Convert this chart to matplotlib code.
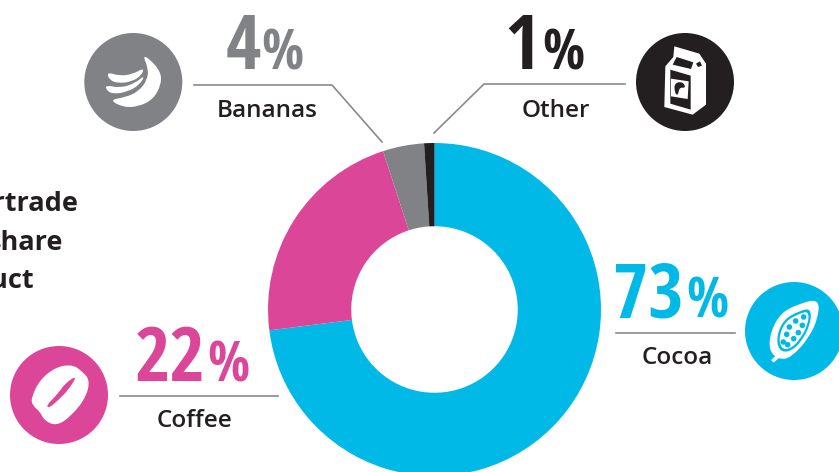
import matplotlib
matplotlib.use('Agg')
import matplotlib.pyplot as plt
from matplotlib.patches import Circle, PathPatch, Polygon
from matplotlib.path import Path

products = ['Cocoa', 'Coffee', 'Bananas', 'Other']
shares = [73, 22, 4, 1]
colors = ['#00b9e7', '#dc4698', '#808285', '#231f20']
title_lines = ['Fairtrade', 'share', 'product']

LINE = '#8a8a8c'
DARK = '#231f20'
BIG = ['Open Sans Condensed', 'Roboto Condensed']
BODY = ['Open Sans', 'DejaVu Sans']
W, H = 839, 472

fig = plt.figure(figsize=(W / 100, H / 100), dpi=100)

# donut in its own axes, centre (434.5, 309.5), radius 166.5 px
cx, cy, r = 434.5, 309.5, 166.5
ax_pie = fig.add_axes([(cx - r) / W, 1 - (cy + r) / H, 2 * r / W, 2 * r / H])
ax_pie.pie(shares, colors=colors, startangle=90, counterclock=False, radius=1,
           wedgeprops=dict(width=0.5, linewidth=0))
ax_pie.set_xlim(-1, 1)
ax_pie.set_ylim(-1, 1)

# everything else is placed in pixels, y going down
ax = fig.add_axes([0, 0, 1, 1])
ax.set_xlim(0, W)
ax.set_ylim(H, 0)
ax.axis('off')
ax.patch.set_alpha(0)


def blob(pts, x0, y0, color, z=3):
    # smooth closed shape through the midpoints of pts (given at 3x scale)
    pts = [(x0 + a / 3, y0 + b / 3) for a, b in pts]
    n = len(pts)
    mid = lambda i: ((pts[i][0] + pts[(i + 1) % n][0]) / 2, (pts[i][1] + pts[(i + 1) % n][1]) / 2)
    verts = [mid(n - 1)]
    codes = [Path.MOVETO]
    for i in range(n):
        verts += [pts[i], mid(i)]
        codes += [Path.CURVE3, Path.CURVE3]
    ax.add_patch(PathPatch(Path(verts, codes), fc=color, ec='none', zorder=z))


def poly(pts, x0, y0, color, z=3):
    ax.add_patch(Polygon([(x0 + a / 3, y0 + b / 3) for a, b in pts], closed=True,
                         fc=color, ec='none', zorder=z))


# leader lines
leaders = [[(194, 85), (332, 85), (382, 142)],
           [(625, 84), (484, 84), (434, 133)],
           [(120, 395.5), (278, 395.5)],
           [(616, 333), (735, 333)]]
for pts in leaders:
    ax.plot([p[0] for p in pts], [p[1] for p in pts], color=LINE, lw=1.2,
            solid_joinstyle='miter')

# big percentages: digits end at x_digit, the smaller % starts at x_pct
big_numbers = [('4', 261, 261, 69, colors[2]),
               ('1', 540, 542, 69, colors[3]),
               ('22', 205, 207, 381, colors[1]),
               ('73', 684, 686, 317, colors[0])]
for digits, x_digit, x_pct, base, col in big_numbers:
    ax.text(x_digit, base, digits, ha='right', va='baseline', fontsize=55,
            fontweight='bold', family=BIG, color=col)
    ax.text(x_pct, base, '%', ha='left', va='baseline', fontsize=40,
            fontweight='bold', family=BIG, color=col)

# product names
name_pos = [(677.5, 364), (195, 427), (267, 117), (556, 117)]
for name, (x, y) in zip(products, name_pos):
    ax.text(x, y, name, ha='center', va='baseline', fontsize=17.5, fontweight='semibold',
            family=BODY, color=DARK)

# heading, runs off the left edge
for line, x, y in zip(title_lines, [79, 63, 34], [211, 250, 288]):
    ax.text(x, y, line, ha='right', va='baseline', fontsize=19.5, fontweight='bold',
            family=BODY, color=DARK)

# icon discs
for (x, y), col in zip([(794, 331), (59, 395), (133.3, 82), (685, 82)], colors):
    ax.add_patch(Circle((x, y), 49, fc=col, ec='none', zorder=2))

# banana bunch
blob([(110, 216), (150, 228), (190, 222), (222, 203), (215, 226), (185, 245), (145, 250), (118, 240)],
     70, 0, 'white')
blob([(106, 255), (150, 264), (195, 250), (226, 224), (208, 256), (170, 276), (130, 282), (110, 272)],
     70, 0, 'white')
blob([(218, 166), (240, 178), (272, 215), (274, 252), (250, 298), (205, 320), (160, 322), (118, 300),
      (165, 292), (205, 275), (232, 240), (235, 205)], 70, 0, 'white')

# coffee bean
blob([(93, 685), (120, 628), (170, 590), (218, 584), (245, 603), (270, 630), (258, 682), (215, 737),
      (170, 768), (133, 752), (120, 725), (98, 707)], 0, 170, 'white')
blob([(138, 707), (175, 670), (195, 640), (233, 615), (205, 660), (175, 690), (148, 714)],
     0, 170, colors[1], z=4)

# cocoa pod
blob([(222, 50), (220, 105), (192, 168), (140, 225), (105, 234), (72, 208), (76, 150), (108, 92),
      (160, 66)], 745, 282, 'white')
poly([(78, 234), (96, 218), (104, 226), (86, 242)], 745, 282, 'white')
blob([(198, 78), (197, 125), (168, 182), (130, 212), (100, 204), (95, 160), (117, 112), (160, 88)],
     745, 282, colors[0], z=4)
blob([(191, 87), (190, 125), (163, 177), (129, 204), (107, 197), (102, 161), (122, 117), (161, 96)],
     745, 282, 'white', z=5)
seeds = [(176, 105), (152, 117), (133, 135), (172, 130), (125, 157), (160, 152), (146, 170), (115, 180), (128, 188)]
for a, b in seeds:
    ax.add_patch(Circle((745 + a / 3, 282 + b / 3), 2.8, fc=colors[0], ec='none', zorder=6))

# milk carton with the label on its front
poly([(115, 40), (190, 62), (210, 92), (210, 215), (170, 245), (85, 222), (88, 100), (112, 72)],
     636, 33, 'white')
poly([(122, 72), (172, 88), (165, 108), (110, 95)], 636, 33, DARK, z=4)
poly([(180, 92), (192, 85), (198, 98), (186, 102)], 636, 33, DARK, z=4)
poly([(103, 110), (164, 128), (164, 230), (103, 212)], 636, 33, DARK, z=4)
poly([(105, 137), (158, 145), (155, 198), (105, 190)], 636, 33, 'white', z=5)
blob([(115, 150), (140, 146), (150, 165), (130, 163), (126, 188), (116, 180)], 636, 33, DARK, z=6)

fig.savefig('out.png', dpi=100, facecolor='white')
